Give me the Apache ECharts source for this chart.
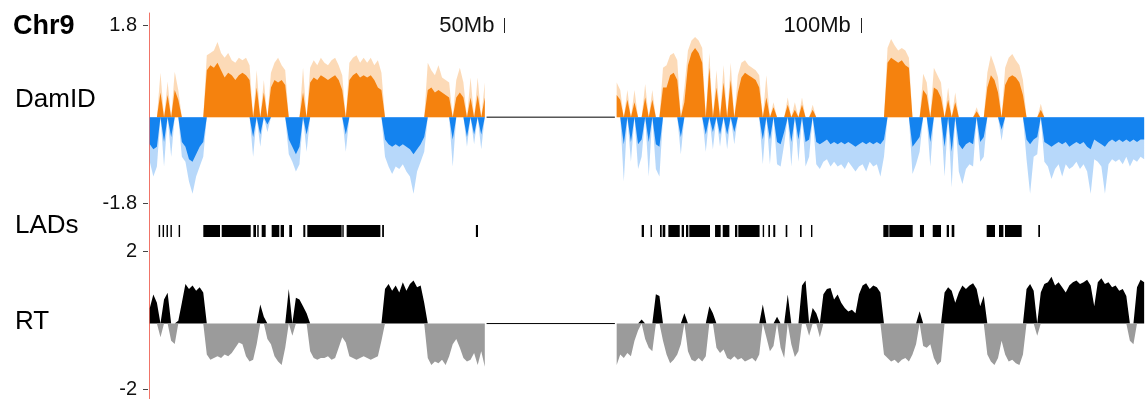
<!DOCTYPE html>
<html>
<head>
<meta charset="utf-8">
<title>Chr9 DamID / LADs / RT</title>
<script src="https://cdn.jsdelivr.net/npm/echarts@6/dist/echarts.min.js"></script>
<style>
  html, body { margin: 0; padding: 0; background: #fff; }
  #chart { width: 1145px; height: 399px; }
</style>
</head>
<body>
<div id="chart"></div>
<script>
// Chromosome 9 browser view: DamID signal, called LADs and replication timing (RT).
const FONT = '"Liberation Sans", Arial, Helvetica, sans-serif';

const BIN_MB = 0.5;            // width of one signal bin, Mb
const P_ARM_START = 0;         // first bin of the p-arm block, Mb
const Q_ARM_START = 65.5;      // first bin of the q-arm block, Mb
const GAP_MB = [47.5, 65.5];   // pericentromeric region without data
const CHROM_END_MB = 139.87;
const MB_TICKS = [50, 100];
const DAMID_TICKS = [-1.8, 1.8];
const RT_TICKS = [-2, 2];

// DamID log2 signal per bin, smoothed level (p-arm, 0 - 47.5 Mb)
const damidCoreP = [
  -0.55,-0.65,-0.6,0.5,-0.5,0.45,-0.4,0.55,0.35,-0.5,
  -0.6,-0.85,-0.9,-0.75,-0.6,-0.5,0.95,1.05,1.0,1.1,
  0.95,0.8,0.9,0.85,0.75,0.85,0.9,0.85,0.75,-0.4,
  0.6,-0.35,0.5,-0.15,0.6,0.75,0.7,0.75,0.65,-0.45,
  -0.6,-0.75,-0.6,0.5,-0.35,0.7,0.8,0.75,0.85,0.8,
  0.75,0.8,0.85,0.75,0.55,-0.35,0.75,0.85,0.9,0.8,
  0.85,0.8,0.85,0.75,0.6,0.55,-0.45,-0.55,-0.6,-0.55,
  -0.6,-0.55,-0.6,-0.65,-0.75,-0.65,-0.55,-0.4,0.55,0.6,
  0.5,0.55,0.5,0.45,0.4,-0.45,0.4,0.5,0.4,-0.4,
  0.4,-0.35,0.45,-0.35,0.4
];
// DamID smoothed level (q-arm, 65.5 - 140 Mb)
const damidCoreQ = [
  0.45,0.35,-0.55,0.35,-0.5,0.3,-0.55,-0.45,0.4,
  -0.5,0.35,-0.55,-0.6,0.6,0.6,0.85,0.9,0.75,-0.4,
  0.3,1.05,1.3,1.4,1.3,1.1,-0.35,1.0,-0.3,0.6,
  -0.35,0.7,-0.35,0.75,-0.3,0.5,0.8,0.9,0.85,0.8,
  0.75,0.6,-0.45,0.4,-0.45,0.2,-0.5,-0.55,-0.3,0.25,
  -0.5,0.15,-0.45,0.25,-0.5,-0.45,0.15,-0.5,-0.55,-0.5,
  -0.45,-0.55,-0.5,-0.55,-0.5,-0.55,-0.5,-0.55,-0.6,-0.55,
  -0.5,-0.55,-0.5,-0.55,-0.5,-0.55,-0.45,1.1,1.2,1.15,
  1.1,1.15,1.05,1.0,-0.6,-0.5,-0.4,0.55,0.45,-0.5,
  0.6,0.55,0.4,-0.6,0.35,-0.7,0.3,-0.55,-0.65,-0.55,
  -0.5,-0.55,0.12,-0.5,-0.4,0.6,0.85,0.75,0.5,-0.25,
  0.65,0.8,0.85,0.8,0.7,0.45,-0.45,-0.55,-0.45,-0.4,
  0.15,-0.5,-0.55,-0.6,-0.55,-0.5,-0.55,-0.5,-0.6,-0.55,
  -0.5,-0.55,-0.5,-0.6,-0.65,-0.45,-0.5,-0.55,-0.6,-0.5,
  -0.45,-0.5,-0.45,-0.5,-0.45,-0.5,-0.45,-0.5,-0.45,-0.45
];
// DamID per-bin extreme of the raw probes (p-arm)
const damidPeakP = [
  -0.9,-1.2,-1.0,0.9,-1.0,0.72,-0.8,0.92,0.55,-0.8,
  -0.9,-1.3,-1.55,-1.2,-1.0,-0.8,1.25,1.3,1.35,1.52,
  1.3,1.2,1.3,1.15,1.1,1.2,1.15,1.2,1.05,-0.8,
  0.95,-0.6,0.75,-0.3,0.9,1.1,1.2,1.05,0.95,-0.75,
  -0.9,-1.1,-0.95,1.0,-0.7,1.0,1.15,1.05,1.2,1.1,
  1.05,1.15,1.2,1.05,0.85,-0.7,1.1,1.2,1.25,1.1,
  1.2,1.1,1.2,1.05,1.15,0.9,-0.8,-1.0,-1.15,-1.0,
  -1.05,-0.95,-1.1,-1.2,-1.55,-1.1,-0.9,-0.7,1.1,0.95,
  0.85,1.05,0.8,0.75,0.7,-1.0,0.75,1.0,0.7,-0.6,
  0.8,-0.55,0.8,-0.65,0.7
];
// DamID per-bin extreme of the raw probes (q-arm)
const damidPeakQ = [
  0.7,0.55,-1.3,0.55,-0.9,0.55,-1.05,-0.8,0.67,
  -1.2,0.55,-1.05,-1.2,1.0,1.05,1.25,1.3,1.15,-0.75,
  0.6,1.35,1.55,1.62,1.55,1.4,-0.7,1.3,-0.65,0.95,
  -0.6,1.05,-0.65,1.1,-0.55,0.85,1.1,1.15,1.05,1.0,
  0.95,0.85,-0.95,0.85,-0.95,0.3,-0.95,-1.0,-0.55,0.4,
  -1.0,0.3,-0.9,0.4,-1.0,-0.8,0.25,-0.95,-1.05,-0.9,
  -0.85,-1.0,-0.9,-1.0,-0.95,-1.05,-0.9,-1.0,-1.1,-1.0,
  -0.95,-1.1,-0.9,-1.0,-0.95,-1.2,-0.8,1.4,1.58,1.45,
  1.35,1.4,1.35,1.2,-1.15,-0.95,-0.7,0.88,0.7,-1.0,
  1.0,0.85,0.7,-1.2,0.6,-1.42,0.5,-1.1,-1.35,-1.05,
  -0.95,-1.0,0.2,-0.9,-0.8,0.9,1.25,1.05,0.8,-0.47,
  1.0,1.2,1.28,1.15,1.05,0.75,-0.85,-1.55,-0.8,-0.75,
  0.27,-0.9,-1.0,-1.25,-1.05,-0.95,-1.2,-0.95,-1.05,-1.0,
  -0.9,-1.05,-0.95,-1.1,-1.55,-0.85,-0.9,-1.0,-1.55,-0.95,
  -0.85,-0.9,-0.85,-0.95,-0.8,-1.0,-0.85,-0.9,-0.8,-0.85
];
// Replication timing per bin (p-arm)
const rtP = [
  0.45,0.84,0.6,-0.4,0.7,0.89,-0.5,-0.59,0.08,0.6,
  1.15,1.0,1.1,0.95,1.05,0.9,-0.9,-1.05,-1.0,-0.95,
  -1.0,-0.9,-0.95,-0.85,-0.7,-0.55,-0.6,-0.95,-1.1,-1.05,
  -0.6,0.55,0.2,-0.45,-0.6,-0.95,-1.1,-1.2,-0.7,1.0,
  -0.35,0.75,0.7,0.5,0.3,-0.8,-1.0,-1.05,-1.0,-1.0,
  -0.95,-1.05,-1.0,-0.7,-0.4,-0.55,-0.95,-1.0,-1.05,-1.0,
  -0.95,-1.0,-1.05,-1.0,-0.95,-0.5,1.0,1.15,0.95,1.1,
  0.9,1.2,0.95,1.15,1.25,1.05,1.1,0.6,-1.0,-1.2,
  -1.1,-1.15,-1.05,-1.2,-0.95,-0.6,-0.45,-0.7,-1.0,-1.1,
  -1.05,-0.85,-1.2,-0.8,-1.25
];
// Replication timing per bin (q-arm)
const rtQ = [
  -1.2,-0.9,-1.0,-0.85,-0.95,-0.5,-0.2,0.12,-0.45,
  -0.7,-0.8,0.85,0.8,-0.5,-0.9,-1.15,-1.05,-0.9,-0.6,
  0.3,-0.8,-1.05,-1.1,-1.0,-1.1,-0.95,0.5,0.3,-0.7,
  -0.85,-0.75,-1.0,-1.05,-0.95,-1.05,-1.0,-1.1,-1.05,-1.0,
  -1.1,-0.9,0.55,-0.4,-0.8,-0.65,0.2,-0.7,-1.0,0.84,
  -0.6,-0.97,-0.8,1.1,1.25,-0.35,0.45,0.3,-0.4,0.85,
  1.0,1.03,0.7,0.84,0.6,0.45,0.35,0.4,0.3,0.85,
  1.1,1.17,1.0,1.1,1.05,0.9,-0.9,-1.0,-1.1,-1.05,
  -1.15,-1.05,-1.0,-1.1,-0.9,-0.6,0.36,-0.65,-0.7,-0.6,
  -1.0,-1.2,-1.1,0.9,1.05,0.95,0.6,0.9,1.1,1.0,
  1.1,1.17,1.0,0.5,0.8,-0.9,-1.1,-1.2,-1.0,-0.5,
  -0.9,-1.1,-1.05,-1.15,-1.2,-0.9,1.0,1.15,0.95,-0.35,
  0.9,1.15,1.2,1.36,1.1,1.2,1.05,0.9,1.1,1.2,
  1.25,1.15,1.2,1.27,1.1,0.5,1.2,1.31,1.15,1.2,
  1.05,1.1,0.95,1.0,0.8,-0.5,-0.6,1.05,1.27,1.2
];
// Lamina-associated domains, [start, end] in Mb
const ladSegments = [
  [1.5,1.7],[2.05,2.25],[2.6,2.8],[3.15,3.35],[4.3,4.5],
  [7.76,10.1],[10.34,14.41],[14.78,15.15],[15.33,15.53],[15.95,16.51],
  [17.35,18.42],[18.61,19.08],[19.82,20.2],[21.79,22.07],[22.35,27.17],
  [27.26,27.4],[27.87,32.6],[32.85,33.1],[46.0,46.3],
  [69.26,69.58],[70.5,70.7],[71.83,72.07],[72.2,72.57],[73.0,74.6],
  [74.87,75.2],[75.48,75.8],[75.94,78.84],[79.55,80.34],[80.63,81.56],
  [82.35,82.67],[82.82,85.8],[86.24,86.42],[87.03,87.26],[87.72,88.0],
  [89.46,89.69],[91.47,91.7],[93.01,93.2],
  [103.16,103.9],[104.0,107.28],[108.3,108.87],[110.09,111.25],
  [112.05,112.37],[112.75,113.12],
  [117.66,118.83],[119.39,120.0],[120.23,122.57],[124.9,125.14]
];

const ORANGE = '#f5820e';
const BLUE = '#1483ef';
const ORANGE_LIGHT = 'rgba(246,140,30,0.32)';
const BLUE_LIGHT = 'rgba(30,135,240,0.32)';
const RT_EARLY = '#000000';
const RT_LATE = '#9b9b9b';
const AXIS_RED = '#f07468';

// [x, value] pairs at bin centres; a null point separates the two arms
function binPoints(pArr, qArr, fn) {
  const pts = [];
  pArr.forEach((v, k) => pts.push([P_ARM_START + (k + 0.5) * BIN_MB, fn(v)]));
  pts.push([(GAP_MB[0] + GAP_MB[1]) / 2, null]);
  qArr.forEach((v, k) => pts.push([Q_ARM_START + (k + 0.5) * BIN_MB, fn(v)]));
  return pts;
}
const posPart = v => Math.max(v, 0);
const negPart = v => Math.min(v, 0);

const areaSeries = (name, xi, yi, pts, color, z) => ({
  name, type: 'line', xAxisIndex: xi, yAxisIndex: yi, data: pts,
  symbol: 'none', connectNulls: false, z,
  lineStyle: { width: 0, opacity: 0 },
  areaStyle: { color, opacity: 1 },
  silent: true
});

const hiddenX = gi => ({ gridIndex: gi, type: 'value', min: 0, max: CHROM_END_MB, show: false });
const hiddenY = (gi, min, max, pos) => ({ gridIndex: gi, type: 'value', min, max, position: pos, show: false });
const labelY = (gi, min, max, ticks) => ({
  gridIndex: gi, type: 'value', min, max, position: 'left',
  axisLine: { show: false, onZero: false },
  axisTick: { show: true, length: 5, customValues: ticks, lineStyle: { color: '#444', width: 1 } },
  axisLabel: { customValues: ticks, margin: 11, fontSize: 20, color: '#111', fontFamily: FONT },
  splitLine: { show: false }
});

const chart = echarts.init(document.getElementById('chart'), null, { renderer: 'canvas' });

chart.setOption({
  animation: false,
  backgroundColor: '#fff',
  grid: [
    { left: 149, right: 0, top: 13, bottom: 0 },            // frame with the left axis line
    { left: 148, right: 0, top: 25, height: 178 },          // DamID
    { left: 148, right: 0, top: 225, height: 12 },          // LADs
    { left: 148, right: 0, top: 251, height: 140 },         // RT
    { left: 148, right: 0, top: 33, height: 1 }             // Mb ruler
  ],
  xAxis: [
    hiddenX(0), hiddenX(1), hiddenX(2), hiddenX(3),
    {
      gridIndex: 4, type: 'value', min: 0, max: CHROM_END_MB, position: 'top',
      axisLine: { show: false, onZero: false },
      axisTick: { show: true, length: 15, customValues: MB_TICKS, lineStyle: { color: '#222', width: 1 } },
      axisLabel: {
        customValues: MB_TICKS, formatter: '{value}Mb',
        align: 'right', verticalAlign: 'middle', margin: 7, padding: [0, 10, 0, 0],
        fontSize: 22, color: '#111', fontFamily: FONT
      },
      splitLine: { show: false }
    }
  ],
  yAxis: [
    {
      gridIndex: 0, type: 'value', min: 0, max: 1, position: 'left',
      axisLine: { show: true, onZero: false, lineStyle: { color: AXIS_RED, width: 1 } },
      axisTick: { show: false }, axisLabel: { show: false }, splitLine: { show: false }
    },
    hiddenY(1, -1.736, 1.864, 'right'),
    labelY(1, -1.8, 1.8, DAMID_TICKS),
    hiddenY(2, 0, 1, 'left'),
    hiddenY(3, -1.897, 2.103, 'right'),
    labelY(3, -2, 2, RT_TICKS),
    hiddenY(4, 0, 1, 'left')
  ],
  graphic: [
    { type: 'text', x: 13, y: 27, style: { text: 'Chr9', font: 'bold 27px ' + FONT, fill: '#000', align: 'left', verticalAlign: 'middle' } },
    { type: 'text', x: 15, y: 100, style: { text: 'DamID', font: '26px ' + FONT, fill: '#000', align: 'left', verticalAlign: 'middle' } },
    { type: 'text', x: 15, y: 226, style: { text: 'LADs', font: '26px ' + FONT, fill: '#000', align: 'left', verticalAlign: 'middle' } },
    { type: 'text', x: 15, y: 322, style: { text: 'RT', font: '26px ' + FONT, fill: '#000', align: 'left', verticalAlign: 'middle' } }
  ],
  series: [
    // DamID raw extremes as a light haze behind the smoothed signal
    areaSeries('damid-peak-pos', 1, 1, binPoints(damidPeakP, damidPeakQ, posPart), ORANGE_LIGHT, 1),
    areaSeries('damid-peak-neg', 1, 1, binPoints(damidPeakP, damidPeakQ, negPart), BLUE_LIGHT, 1),
    areaSeries('damid-pos', 1, 1, binPoints(damidCoreP, damidCoreQ, posPart), ORANGE, 3),
    areaSeries('damid-neg', 1, 1, binPoints(damidCoreP, damidCoreQ, negPart), BLUE, 3),
    {
      name: 'damid-gap', type: 'line', xAxisIndex: 1, yAxisIndex: 1,
      data: [[GAP_MB[0], 0], [GAP_MB[1], 0]], symbol: 'none', z: 4, silent: true,
      lineStyle: { color: '#000', width: 1 }
    },
    {
      name: 'lads', type: 'custom', xAxisIndex: 2, yAxisIndex: 3,
      data: ladSegments, encode: { x: [0, 1] }, silent: true,
      renderItem(params, api) {
        const a = api.coord([api.value(0), 1]);
        const b = api.coord([api.value(1), 0]);
        return {
          type: 'rect',
          shape: { x: a[0], y: a[1], width: Math.max(b[0] - a[0], 1.4), height: b[1] - a[1] },
          style: { fill: '#000' }
        };
      }
    },
    areaSeries('rt-early', 3, 4, binPoints(rtP, rtQ, posPart), RT_EARLY, 2),
    areaSeries('rt-late', 3, 4, binPoints(rtP, rtQ, negPart), RT_LATE, 2),
    {
      name: 'rt-gap', type: 'line', xAxisIndex: 3, yAxisIndex: 4,
      data: [[GAP_MB[0], 0], [GAP_MB[1], 0]], symbol: 'none', z: 4, silent: true,
      lineStyle: { color: '#000', width: 1 }
    }
  ]
});
</script>
</body>
</html>
